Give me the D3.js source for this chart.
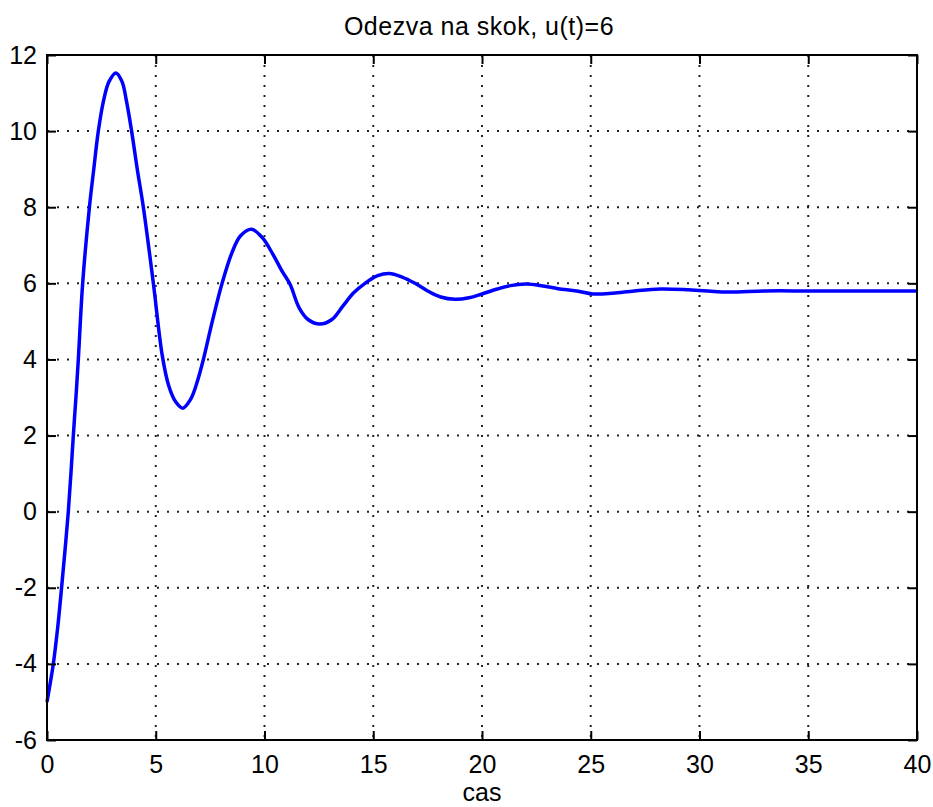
<!DOCTYPE html>
<html>
<head>
<meta charset="utf-8">
<script src="https://cdn.jsdelivr.net/npm/d3@7"></script>
<style>
  html, body { margin: 0; padding: 0; background: #fff; overflow: hidden; }
  svg { display: block; }
  svg text { font-family: "Liberation Sans", Arial, Helvetica, sans-serif; fill: #000; }
</style>
</head>
<body>
<div id="chart"></div>
<script>
// ---------- Data ----------
const xTicks = [0, 5, 10, 15, 20, 25, 30, 35, 40];
const yTicks = [-6, -4, -2, 0, 2, 4, 6, 8, 10, 12];

// step response
const timeValues = [
  0, 0.15, 0.29, 0.5, 0.67, 0.83, 0.98, 1.1, 1.21, 1.33, 1.44, 1.64, 1.95, 2.15,
  2.36, 2.6, 2.85, 3.17, 3.45, 3.65, 3.89, 4.15, 4.43, 4.89, 5.3, 5.6, 5.9, 6.24,
  6.6, 6.9, 7.19, 7.6, 8.05, 8.5, 8.9, 9.41, 9.9, 10.4, 10.8, 11.17, 11.6, 12.0,
  12.55, 13.1, 13.6, 14.1, 14.62, 15.2, 15.74, 16.3, 16.92, 17.5, 18.1, 18.76,
  19.4, 20.0, 20.7, 21.3, 22.05, 22.8, 23.5, 24.35, 25.1, 26.0, 27.0, 28.2, 29.5,
  31.25, 33.0, 35.0, 37.0, 40.0
];
const responseValues = [
  -5.0, -4.5, -4.0, -3.0, -2.0, -1.0, 0.0, 1.0, 2.0, 3.0, 4.0, 6.0, 8.0, 9.0,
  10.0, 10.8, 11.3, 11.53, 11.3, 10.8, 10.0, 9.0, 8.0, 6.0, 4.1, 3.3, 2.9, 2.72,
  2.95, 3.4, 4.0, 5.0, 6.0, 6.8, 7.25, 7.42, 7.2, 6.75, 6.33, 5.98, 5.35, 5.05,
  4.93, 5.05, 5.4, 5.75, 6.0, 6.2, 6.26, 6.17, 6.0, 5.8, 5.64, 5.58,
  5.62, 5.72, 5.85, 5.94, 5.98, 5.93, 5.86, 5.8, 5.72, 5.74, 5.8, 5.85, 5.83,
  5.77, 5.8, 5.8, 5.8, 5.8
];

const data = timeValues.map((t, i) => ({ t, v: responseValues[i] }));

// ---------- Layout ----------
const width = 933;
const height = 807;
const margin = { top: 55, right: 16, bottom: 67, left: 47 };
const innerWidth  = width  - margin.left - margin.right;
const innerHeight = height - margin.top  - margin.bottom;
const tickLen = 9;
const fontSize = 25;

const svg = d3.select("#chart").append("svg")
  .attr("width", width)
  .attr("height", height);

const g = svg.append("g")
  .attr("transform", `translate(${margin.left},${margin.top})`);

// ---------- Scales ----------
const x = d3.scaleLinear().domain([0, 40]).range([0, innerWidth]);
const y = d3.scaleLinear().domain([-6, 12]).range([innerHeight, 0]);

// ---------- Grid ----------
g.append("g")
  .selectAll("line")
  .data(xTicks.slice(1, -1))
  .join("line")
  .attr("x1", d => x(d)).attr("x2", d => x(d))
  .attr("y1", 0).attr("y2", innerHeight)
  .attr("stroke", "#222")
  .attr("stroke-width", 2)
  .attr("stroke-dasharray", "2,8");

g.append("g")
  .selectAll("line")
  .data(yTicks.slice(1, -1))
  .join("line")
  .attr("x1", 0).attr("x2", innerWidth)
  .attr("y1", d => y(d)).attr("y2", d => y(d))
  .attr("stroke", "#222")
  .attr("stroke-width", 2)
  .attr("stroke-dasharray", "2,8");

// ---------- Line ----------
const line = d3.line()
  .x(d => x(d.t))
  .y(d => y(d.v))
  .curve(d3.curveCatmullRom.alpha(0.5));

g.append("path")
  .datum(data)
  .attr("fill", "none")
  .attr("stroke", "#0000ff")
  .attr("stroke-width", 3.5)
  .attr("stroke-linejoin", "round")
  .attr("d", line);

// ---------- Axes (box, ticks inside) ----------
const axisStyle = sel => {
  sel.select(".domain").remove();
  sel.selectAll(".tick line").attr("stroke", "#000").attr("stroke-width", 2);
  sel.selectAll(".tick text").style("font-size", `${fontSize}px`);
};

g.append("g")
  .attr("transform", `translate(0,${innerHeight})`)
  .call(d3.axisBottom(x).tickValues(xTicks).tickSize(-tickLen).tickPadding(13).tickFormat(d => String(d)))
  .call(axisStyle)
  .selectAll(".tick text").attr("dy", "0.8em");

g.append("g")
  .call(d3.axisTop(x).tickValues(xTicks).tickSize(-tickLen))
  .call(axisStyle)
  .call(sel => sel.selectAll(".tick text").remove());

g.append("g")
  .call(d3.axisLeft(y).tickValues(yTicks).tickSize(-tickLen).tickPadding(10).tickFormat(d => String(d)))
  .call(axisStyle);

g.append("g")
  .attr("transform", `translate(${innerWidth},0)`)
  .call(d3.axisRight(y).tickValues(yTicks).tickSize(-tickLen))
  .call(axisStyle)
  .call(sel => sel.selectAll(".tick text").remove());

g.append("rect")
  .attr("width", innerWidth)
  .attr("height", innerHeight)
  .attr("fill", "none")
  .attr("stroke", "#000")
  .attr("stroke-width", 2);

// ---------- Labels ----------
svg.append("text")
  .attr("x", margin.left + innerWidth / 2 - 3)
  .attr("y", 35)
  .attr("text-anchor", "middle")
  .style("font-size", `${fontSize}px`)
  .style("letter-spacing", "0.5px")
  .text("Odezva na skok, u(t)=6");

svg.append("text")
  .attr("x", margin.left + innerWidth / 2)
  .attr("y", 801)
  .attr("text-anchor", "middle")
  .style("font-size", `${fontSize}px`)
  .text("cas");
</script>
</body>
</html>
